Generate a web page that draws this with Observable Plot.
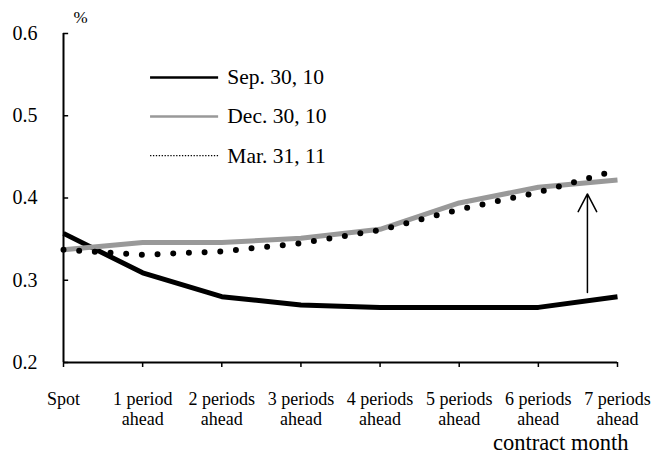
<!DOCTYPE html>
<html>
<head>
<meta charset="utf-8">
<script src="https://cdn.jsdelivr.net/npm/d3@7"></script>
<script src="https://cdn.jsdelivr.net/npm/@observablehq/plot@0.6"></script>
<style>
  html, body { margin: 0; padding: 0; background: #fff; }
  #chart svg { display: block; }
</style>
</head>
<body>
<div id="chart"></div>
<script>
// ---- data ----
const categories = ["Spot", "1 period\nahead", "2 periods\nahead", "3 periods\nahead",
  "4 periods\nahead", "5 periods\nahead", "6 periods\nahead", "7 periods\nahead"];
const seriesNames = ["Sep. 30, 10", "Dec. 30, 10", "Mar. 31, 11"];
const sep30_10 = [0.357, 0.309, 0.280, 0.270, 0.267, 0.267, 0.267, 0.280];
const dec30_10 = [0.337, 0.346, 0.346, 0.351, 0.362, 0.394, 0.413, 0.422];
const mar31_11 = [0.337, 0.331, 0.335, 0.345, 0.361, 0.386, 0.407, 0.434];
const yTicks = [0.2, 0.3, 0.4, 0.5, 0.6];
const arrowSpan = [{x: 6.62, from: 0.285, to: 0.405}];

// ---- layout / styles ----
const styles = [
  {stroke: "#000", strokeWidth: 5, dash: null, legendWidth: 2.3},
  {stroke: "#999", strokeWidth: 5, dash: null, legendWidth: 2.5},
  {stroke: "#000", strokeWidth: 6, dash: "0,15.7", legendWidth: 1.3, legendDash: "1.3,1.6"}
];
const legendY0 = 0.5465, legendStep = 0.0475, legendX1 = 1.10, legendX2 = 1.96, legendTextX = 2.07;

const allSeries = [sep30_10, dec30_10, mar31_11];
const toRows = (vals) => vals.map((v, i) => ({i, v}));
const legendRows = seriesNames.map((name, k) => ({name, k, y: legendY0 - k * legendStep}));

const lineMarks = allSeries.map((vals, k) => Plot.line(toRows(vals), {
  x: "i", y: "v",
  stroke: styles[k].stroke,
  strokeWidth: styles[k].strokeWidth,
  strokeDasharray: styles[k].dash,
  strokeLinecap: styles[k].dash ? "round" : "butt",
  strokeLinejoin: "round"
}));

const legendMarks = legendRows.map(r => Plot.ruleY([r], {
  y: "y", x1: legendX1, x2: legendX2,
  stroke: styles[r.k].stroke,
  strokeWidth: styles[r.k].legendWidth,
  strokeDasharray: styles[r.k].legendDash
}));

const chart = Plot.plot({
  width: 655,
  height: 453,
  marginLeft: 63,
  marginRight: 38,
  marginTop: 33,
  marginBottom: 91,
  style: {fontFamily: "'Liberation Serif', 'Times New Roman', serif", background: "#fff", color: "#000"},
  x: {domain: [0, 7]},
  y: {domain: [0.2, 0.6]},
  marks: [
    Plot.axisY({ticks: yTicks, tickFormat: d => d.toFixed(1), tickSize: 0, tickPadding: 26, fontSize: 20, label: null}),
    Plot.ruleY(yTicks, {x1: 0, x2: 0.065, stroke: "#000", strokeWidth: 1.5}),
    Plot.axisX({ticks: d3.range(categories.length), tickFormat: i => categories[i], tickSize: 5,
      tickPadding: 24, fontSize: 18, lineHeight: 1.08, label: null, strokeWidth: 1.5}),
    Plot.ruleX([0], {stroke: "#000", strokeWidth: 2}),
    Plot.ruleY([0.2], {stroke: "#000", strokeWidth: 2}),
    ...lineMarks,
    Plot.arrow(arrowSpan, {x1: "x", x2: "x", y1: "from", y2: "to", stroke: "#000", strokeWidth: 1.5,
      headLength: 20, headAngle: 55}),
    ...legendMarks,
    Plot.text(legendRows, {x: legendTextX, y: "y", text: "name", textAnchor: "start", lineAnchor: "middle",
      fontSize: 21.5, fill: "#000"}),
    Plot.text(["%"], {frameAnchor: "top-left", text: d => d, dx: 10, dy: -11, lineAnchor: "bottom",
      textAnchor: "start", fontSize: 17, fill: "#000"}),
    Plot.text(["contract month"], {frameAnchor: "bottom-right", text: d => d, dx: 11, dy: 87,
      lineAnchor: "bottom", textAnchor: "end", fontSize: 22.5, fill: "#000"})
  ]
});
document.getElementById("chart").appendChild(chart);
</script>
</body>
</html>
